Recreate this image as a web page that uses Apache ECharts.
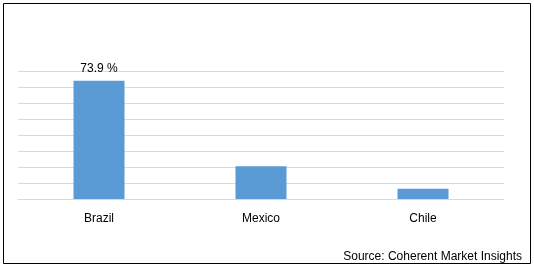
<!DOCTYPE html>
<html>
<head>
<meta charset="utf-8">
<script src="https://cdn.jsdelivr.net/npm/echarts@6/dist/echarts.min.js"></script>
<style>
html,body{margin:0;padding:0;background:#fff;}
#chart{width:534px;height:269px;}
</style>
</head>
<body>
<div id="chart"></div>
<script>
const categories = ['Brazil', 'Mexico', 'Chile'];
const shares = [73.9, 20.4, 6.4];
const labelled = ['73.9 %', '', ''];
const sourceText = 'Source: Coherent Market Insights';

const chart = echarts.init(document.getElementById('chart'), null, {renderer: 'canvas'});
chart.setOption({
  animation: false,
  backgroundColor: '#fff',
  title: {
    text: sourceText,
    right: 7,
    bottom: 1,
    textStyle: {fontFamily: 'Liberation Sans', fontSize: 12, fontWeight: 'normal', color: '#000'}
  },
  graphic: [{
    type: 'rect',
    shape: {x: 3.5, y: 3.5, width: 527, height: 260},
    style: {fill: 'none', stroke: '#000', lineWidth: 1},
    silent: true
  }],
  grid: {left: 18, right: 30, top: 71, bottom: 70, containLabel: false},
  xAxis: {
    type: 'category',
    data: categories,
    axisLine: {show: true, lineStyle: {color: '#d9d9d9', width: 1}},
    axisTick: {show: false},
    axisLabel: {color: '#000', fontFamily: 'Liberation Sans', fontSize: 12, margin: 14}
  },
  yAxis: {
    type: 'value',
    min: 0, max: 80, interval: 10,
    axisLine: {show: false},
    axisTick: {show: false},
    axisLabel: {show: false},
    splitLine: {lineStyle: {color: '#d9d9d9', width: 1}}
  },
  series: [{
    type: 'bar',
    data: shares,
    barWidth: '31.5%',
    itemStyle: {color: '#5b9bd5'},
    label: {
      show: true,
      position: 'top',
      distance: 6,
      color: '#000',
      fontFamily: 'Liberation Sans',
      fontSize: 12,
      formatter: p => labelled[p.dataIndex]
    }
  }]
});
</script>
</body>
</html>
